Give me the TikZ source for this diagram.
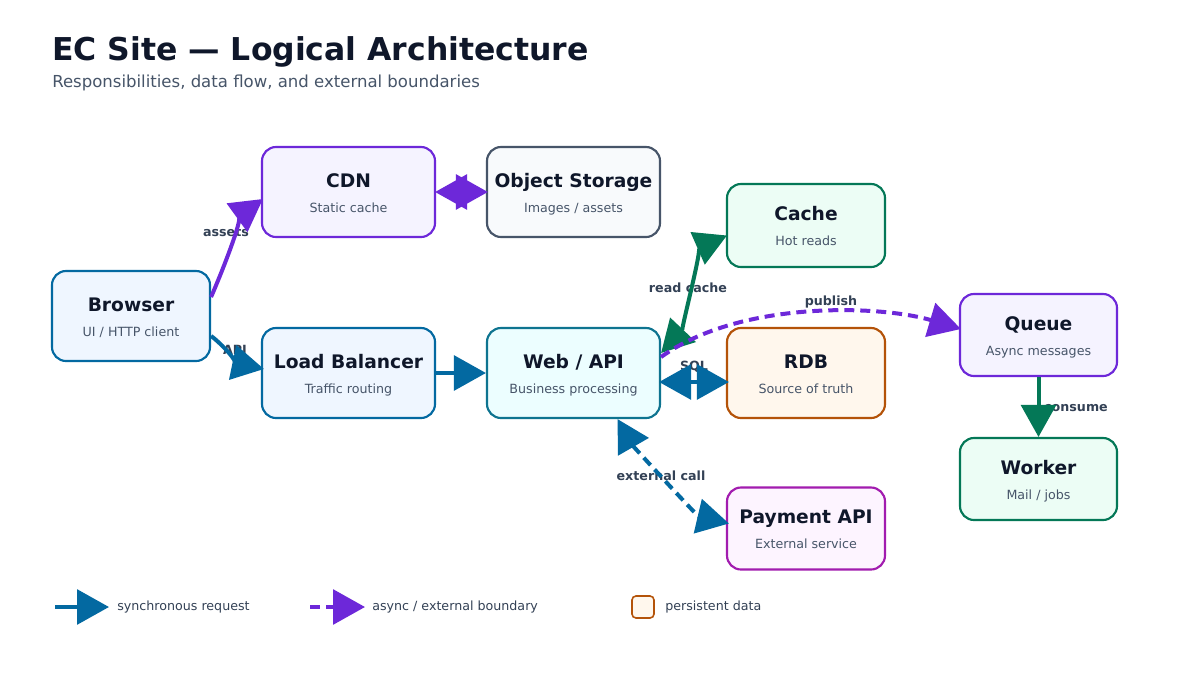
\documentclass[tikz,border=0pt]{standalone}
\usepackage{fontspec}
\setmainfont{DejaVu Sans}
\usetikzlibrary{arrows.meta,calc}
\definecolor{ink}{HTML}{0F172A}
\definecolor{subc}{HTML}{475569}
\definecolor{lbl}{HTML}{334155}
\definecolor{cblue}{HTML}{0369A1}
\definecolor{cpurp}{HTML}{6D28D9}
\definecolor{cgreen}{HTML}{047857}
\definecolor{cteal}{HTML}{0E7490}
\definecolor{corange}{HTML}{B45309}
\definecolor{cmag}{HTML}{A21CAF}
\definecolor{cslate}{HTML}{475569}
\definecolor{fblue}{HTML}{EFF6FF}
\definecolor{fpurp}{HTML}{F5F3FF}
\definecolor{fgreen}{HTML}{ECFDF5}
\definecolor{fteal}{HTML}{ECFEFF}
\definecolor{forange}{HTML}{FFF7ED}
\definecolor{fmag}{HTML}{FDF4FF}
\definecolor{fslate}{HTML}{F8FAFC}
\tikzset{
  box/.style={draw, rounded corners=10.5pt, line width=1.6pt, inner sep=0pt},
  btitle/.style={anchor=base, text=ink, font=\fontsize{14}{16}\selectfont\bfseries, inner sep=0pt},
  bsub/.style={anchor=base, text=subc, font=\fontsize{9.5}{11}\selectfont, inner sep=0pt},
  elabel/.style={text=lbl, font=\fontsize{9.5}{11}\selectfont\bfseries, inner sep=0pt},
  legtext/.style={anchor=west, text=lbl, font=\fontsize{9.5}{11}\selectfont, inner sep=0pt},
  conn/.style={line width=3pt},
  tip/.style={-{Triangle[length=24pt,width=26pt]}},
  tips/.style={{Triangle[length=24pt,width=26pt]}-{Triangle[length=24pt,width=26pt]}},
  dash async/.style={dash pattern=on 7.5pt off 4.5pt},
}
\newcommand{\mkbox}[9]{%
  \node[box, draw=#6, fill=#7, minimum width=#4*0.75pt, minimum height=#5*0.75pt] (#1) at (#2,#3) {};
  \node[btitle] (#1-t) at ($(#1)+(0,-5)$) {#8};
  \node[bsub] (#1-s) at ($(#1)+(0,20)$) {#9};
}
\begin{document}
\begin{tikzpicture}[x=0.75pt,y=-0.75pt]
\useasboundingbox[fill=white] (0,0) rectangle (1200,675);

% title
\node[anchor=base west, inner sep=0pt, text=ink, font=\fontsize{23.6}{28}\selectfont\bfseries] (title) at (52,60) {EC Site — Logical Architecture};
\node[anchor=base west, inner sep=0pt, text=subc, font=\fontsize{12.4}{14}\selectfont] (subtitle) at (52,87) {Responsibilities, data flow, and external boundaries};

% boxes
\mkbox{browser}{131}{316}{158}{90}{cblue}{fblue}{Browser}{UI / HTTP client}
\mkbox{cdn}{348.5}{192}{173}{90}{cpurp}{fpurp}{CDN}{Static cache}
\mkbox{os}{573.5}{192}{173}{90}{cslate}{fslate}{Object Storage}{Images / assets}
\mkbox{cache}{806}{225.5}{158}{83}{cgreen}{fgreen}{Cache}{Hot reads}
\mkbox{lb}{348.5}{373}{173}{90}{cblue}{fblue}{Load Balancer}{Traffic routing}
\mkbox{web}{573.5}{373}{173}{90}{cteal}{fteal}{Web / API}{Business processing}
\mkbox{rdb}{806}{373}{158}{90}{corange}{forange}{RDB}{Source of truth}
\mkbox{queue}{1038.5}{335}{157}{82}{cpurp}{fpurp}{Queue}{Async messages}
\mkbox{worker}{1038.5}{479}{157}{82}{cgreen}{fgreen}{Worker}{Mail / jobs}
\mkbox{pay}{806}{528.5}{158}{82}{cmag}{fmag}{Payment API}{External service}

% edge labels
\node[elabel] (l-assets) at (226,232) {assets};
\node[elabel] (l-api) at (235,350) {API};
\node[elabel] (l-read) at (688,288) {read cache};
\node[elabel] (l-pub) at (831,302) {publish};
\node[elabel] (l-sql) at (694,367) {SQL};
\node[elabel] (l-ext) at (661,476) {external call};
\node[elabel] (l-cons) at (1076,408) {consume};

% connectors
\draw[conn, tip, draw=cpurp] ($(browser.east)+(0,-19)$) .. controls (225,265) and (245,212) .. ($(cdn.west)+(2,7)$);
\draw[conn, tip, draw=cblue] ($(browser.east)+(0,20)$) .. controls (222,344) and (240,364) .. ($(lb.west)+(3,-4)$);
\draw[conn, tips, draw=cpurp] ($(cdn.east)+(-1,0)$) -- ($(os.west)+(2,0)$);
\draw[conn, tip, draw=cblue] (lb.east) -- (web.west);
\draw[conn, tips, draw=cgreen] ($(web.east)+(0,-20)$) .. controls (680,333) and (703,246) .. ($(cache.west)+(1,10)$);
\draw[conn, tips, draw=cblue] ($(web.east)+(-2,9)$) -- ($(rdb.west)+(3,9)$);
\draw[conn, tip, dash async, draw=cpurp] ($(web.east)+(0,-16)$) .. controls (740,300) and (880,305) .. ($(queue.west)+(2,-6)$);
\draw[conn, tip, draw=cgreen] (queue.south) -- (worker.north);
\draw[conn, tips, dash async, draw=cblue] ($(web.south)+(44,0)$) .. controls (633,446) and (697,516) .. ($(pay.west)+(3,-5)$);

% legend
\coordinate (lg1a) at (55,607);
\coordinate (lg1b) at (109,607);
\coordinate (lg2a) at (310,607);
\coordinate (lg2b) at (365,607);
\draw[conn, tip, draw=cblue] (lg1a) -- (lg1b);
\node[legtext] (lg1t) at (117,607) {synchronous request};
\draw[conn, tip, dash async, draw=cpurp] (lg2a) -- (lg2b);
\node[legtext] (lg2t) at (372,607) {async / external boundary};
\node[draw=corange, fill=forange, line width=1.2pt, rounded corners=3pt, minimum width=22*0.75pt, minimum height=22*0.75pt, inner sep=0pt] (lg3) at (643,607) {};
\node[legtext] (lg3t) at (665,607) {persistent data};
\end{tikzpicture}
\end{document}
